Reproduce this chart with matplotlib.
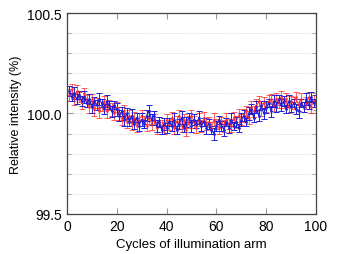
import matplotlib
matplotlib.use('Agg')
import matplotlib.pyplot as plt
from matplotlib.ticker import MultipleLocator, FormatStrFormatter

cycles = list(range(1, 101))

blue_vals = [100.11, 100.08, 100.10, 100.07, 100.09, 100.06, 100.08, 100.05, 100.07, 100.03,
             100.06, 100.04, 100.07, 100.05, 100.02, 100.06, 100.04, 100.01, 100.04, 100.02,
             99.99, 100.01, 99.97, 100.00, 99.96, 99.99, 99.95, 99.98, 99.94, 99.97,
             99.95, 99.99, 100.01, 99.97, 99.99, 99.94, 99.96, 99.92, 99.95, 99.93,
             99.96, 99.94, 99.97, 99.92, 99.95, 99.98, 99.93, 99.96, 99.98, 99.94,
             99.97, 99.95, 99.98, 99.94, 99.96, 99.93, 99.95, 99.92, 99.90, 99.94,
             99.97, 99.94, 99.92, 99.96, 99.93, 99.97, 99.94, 99.96, 99.93, 99.97,
             99.99, 99.96, 100.00, 100.02, 99.98, 100.03, 99.99, 100.04, 100.00, 100.03,
             100.05, 100.01, 100.06, 100.03, 100.07, 100.04, 100.06, 100.02, 100.06, 100.03,
             100.05, 100.02, 100.01, 100.05, 100.03, 100.07, 100.04, 100.08, 100.05, 100.06]
blue_err = [0.025, 0.020, 0.030, 0.025, 0.020, 0.025, 0.030, 0.020, 0.025, 0.030,
            0.020, 0.025, 0.030, 0.020, 0.025, 0.030, 0.020, 0.025, 0.020, 0.030,
            0.025, 0.020, 0.030, 0.025, 0.020, 0.030, 0.025, 0.020, 0.025, 0.030,
            0.020, 0.025, 0.030, 0.025, 0.020, 0.030, 0.025, 0.020, 0.030, 0.025,
            0.020, 0.025, 0.030, 0.020, 0.025, 0.030, 0.020, 0.025, 0.020, 0.030,
            0.025, 0.020, 0.030, 0.025, 0.020, 0.030, 0.025, 0.020, 0.030, 0.025,
            0.020, 0.025, 0.030, 0.020, 0.025, 0.030, 0.020, 0.025, 0.020, 0.030,
            0.025, 0.020, 0.030, 0.025, 0.020, 0.030, 0.025, 0.020, 0.025, 0.030,
            0.020, 0.025, 0.030, 0.025, 0.020, 0.030, 0.025, 0.020, 0.030, 0.025,
            0.020, 0.025, 0.030, 0.020, 0.025, 0.030, 0.020, 0.025, 0.020, 0.030]

red_vals = [100.09, 100.12, 100.07, 100.11, 100.08, 100.05, 100.10, 100.06, 100.03, 100.07,
            100.02, 100.05, 100.01, 100.04, 100.06, 100.01, 100.04, 100.02, 100.00, 100.03,
            100.00, 99.97, 100.01, 99.96, 99.99, 99.95, 99.98, 99.94, 99.97, 99.99,
            99.96, 99.94, 99.98, 99.95, 99.97, 99.93, 99.96, 99.94, 99.93, 99.97,
            99.95, 99.98, 99.93, 99.96, 99.99, 99.94, 99.97, 99.92, 99.96, 99.99,
            99.96, 99.93, 99.97, 99.94, 99.98, 99.95, 99.96, 99.93, 99.97, 99.95,
            99.93, 99.96, 99.94, 99.97, 99.95, 99.94, 99.98, 99.96, 99.99, 99.97,
            99.99, 100.01, 99.98, 100.03, 100.01, 100.04, 100.06, 100.02, 100.05, 100.03,
            100.06, 100.07, 100.04, 100.07, 100.05, 100.08, 100.05, 100.07, 100.03, 100.06,
            100.05, 100.08, 100.04, 100.07, 100.03, 100.05, 100.08, 100.03, 100.06, 100.04]
red_err = [0.030, 0.025, 0.030, 0.030, 0.025, 0.030, 0.025, 0.030, 0.030, 0.025,
           0.030, 0.025, 0.030, 0.030, 0.025, 0.030, 0.025, 0.030, 0.030, 0.025,
           0.030, 0.025, 0.030, 0.030, 0.025, 0.030, 0.025, 0.030, 0.030, 0.025,
           0.030, 0.025, 0.030, 0.030, 0.025, 0.030, 0.025, 0.030, 0.030, 0.025,
           0.030, 0.025, 0.030, 0.030, 0.025, 0.030, 0.025, 0.030, 0.030, 0.025,
           0.030, 0.025, 0.030, 0.030, 0.025, 0.030, 0.025, 0.030, 0.030, 0.025,
           0.030, 0.025, 0.030, 0.030, 0.025, 0.030, 0.025, 0.030, 0.030, 0.025,
           0.030, 0.025, 0.030, 0.030, 0.025, 0.030, 0.025, 0.030, 0.030, 0.025,
           0.030, 0.025, 0.030, 0.030, 0.025, 0.030, 0.025, 0.030, 0.030, 0.025,
           0.030, 0.025, 0.030, 0.030, 0.025, 0.030, 0.025, 0.030, 0.030, 0.025]

plt.rcParams['font.family'] = ['Liberation Sans', 'DejaVu Sans']

fig = plt.figure(figsize=(3.45, 2.55), dpi=100)
ax = fig.add_axes([0.194, 0.157, 0.722, 0.788])

ax.errorbar(cycles, red_vals, yerr=red_err, color='#ff2a2a', alpha=0.75, lw=0.8,
            elinewidth=0.7, capsize=2, capthick=0.7, marker='.', ms=2)
ax.errorbar(cycles, blue_vals, yerr=blue_err, color='#2020d8', lw=0.8,
            elinewidth=0.7, capsize=2, capthick=0.7, marker='.', ms=2)

ax.set_xlim(0, 100)
ax.set_ylim(99.5, 100.5)
ax.set_yticks([99.5, 100.0, 100.5])
ax.yaxis.set_major_formatter(FormatStrFormatter('%.1f'))
ax.yaxis.set_minor_locator(MultipleLocator(0.1))
ax.set_xticks([0, 20, 40, 60, 80, 100])
ax.grid(True, which='both', axis='y', color='#e0e0e0', lw=0.6, ls=(0, (2, 1)))
ax.set_axisbelow(True)

ax.tick_params(which='both', direction='in', top=True, right=True, color='#999999',
               labelsize=10)
ax.tick_params(which='major', length=4)
ax.tick_params(which='minor', length=3)
for s in ax.spines.values():
    s.set_color('#444444')
    s.set_linewidth(0.9)

ax.set_xlabel('Cycles of illumination arm', fontsize=9.5)
ax.set_ylabel('Relative intensity (%)', fontsize=9)

fig.savefig('out.png', dpi=100)
